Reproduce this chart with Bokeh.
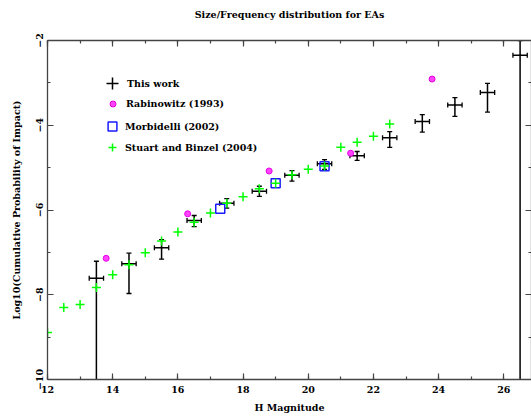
import math
from bokeh.plotting import figure
from bokeh.models import (LinearAxis, Legend, LegendItem, ColumnDataSource,
                          SingleIntervalTicker, Range1d, CustomJSTickFormatter)
from bokeh.embed import file_html
from bokeh.resources import INLINE

# ---------------- data ----------------
# This work (H magnitude, log10 cumulative probability, error bounds)
tw_h = [13.5, 14.5, 15.5, 16.5, 17.5, 18.5, 19.5, 20.5, 21.5, 22.5, 23.5, 24.5, 25.5, 26.5]
tw_logp = [-7.61, -7.27, -6.89, -6.245, -5.84, -5.56, -5.18, -4.91, -4.72, -4.295, -3.91, -3.52, -3.23, -2.35]
tw_low = [-10.5, -7.97, -7.16, -6.39, -5.955, -5.68, -5.32, -5.04, -4.83, -4.52, -4.16, -3.79, -3.69, -10.5]
tw_high = [-7.21, -7.02, -6.70, -6.13, -5.73, -5.44, -5.07, -4.81, -4.62, -4.15, -3.75, -3.35, -3.01, -2.0]
tw_herr = [0.22, 0.22, 0.22, 0.22, 0.22, 0.22, 0.22, 0.22, 0.22, 0.22, 0.22, 0.22, 0.22, 0.22]

# Rabinowitz (1993)
rab_h = [13.8, 16.3, 18.8, 21.3, 23.8]
rab_logp = [-7.14, -6.09, -5.08, -4.66, -2.91]

# Morbidelli (2002)
mor_h = [17.3, 19.0, 20.5]
mor_logp = [-5.97, -5.37, -4.97]

# Stuart and Binzel (2004)
sb_h = [12.0, 12.5, 13.0, 13.5, 14.0, 14.5, 15.0, 15.5, 16.0, 16.5, 17.0,
        17.5, 18.0, 18.5, 19.0, 19.5, 20.0, 20.5, 21.0, 21.5, 22.0, 22.5]
sb_logp = [-8.89, -8.30, -8.23, -7.83, -7.53, -7.29, -7.01, -6.73, -6.52, -6.29, -6.07,
           -5.84, -5.69, -5.50, -5.37, -5.17, -5.04, -4.96, -4.52, -4.40, -4.26, -3.97]

title_text = "Size/Frequency distribution for EAs"
x_label = "H Magnitude"
y_label = "Log10(Cumulative Probability of Impact)"

FONT = "DejaVu Serif"
FS = "9.5px"
AXC = "#444444"

p = figure(width=531, height=417, x_range=Range1d(12, 26.85), y_range=Range1d(-10, -2),
           output_backend="svg", toolbar_location=None,
           min_border_left=47, min_border_right=0, min_border_top=40, min_border_bottom=38,
           background_fill_color="white", border_fill_color="white")
p.xgrid.visible = False
p.ygrid.visible = False
p.outline_line_color = None

bottom = p.below[0]
left = p.left[0]

top = LinearAxis()
right = LinearAxis()
p.add_layout(top, "above")
p.add_layout(right, "right")

for ax in (bottom, top, left, right):
    ax.ticker = SingleIntervalTicker(interval=2, num_minor_ticks=2)
    ax.major_tick_in = 6
    ax.major_tick_out = 0
    ax.minor_tick_in = 3
    ax.minor_tick_out = 0
    ax.axis_line_color = AXC
    ax.axis_line_width = 1.3
    ax.major_tick_line_color = AXC
    ax.minor_tick_line_color = AXC
    ax.major_tick_line_width = 1.2
    ax.minor_tick_line_width = 1.2
    ax.major_label_text_font = FONT
    ax.major_label_text_font_size = FS
    ax.major_label_text_font_style = "bold"
    ax.major_label_text_color = "black"
    ax.axis_label_text_font = FONT
    ax.axis_label_text_font_size = FS
    ax.axis_label_text_font_style = "bold"
    ax.axis_label_text_color = "black"

for ax in (top, right):
    ax.formatter = CustomJSTickFormatter(code="return ''")
    ax.major_label_text_font_size = "0px"
    ax.major_label_standoff = 0

# chart title, carried by the top frame axis so it sits at the reference height
top.axis_label = title_text
top.axis_label_standoff = 21

bottom.axis_label = x_label
bottom.major_label_standoff = 6
bottom.axis_label_standoff = 6

left.axis_label = y_label
left.major_label_orientation = "vertical"
left.major_label_standoff = 5
left.axis_label_standoff = 11

# ---------------- This work: error bars ----------------
tw = ColumnDataSource(dict(
    h=tw_h, logp=tw_logp, low=tw_low, high=tw_high,
    hl=[h - e for h, e in zip(tw_h, tw_herr)],
    hr=[h + e for h, e in zip(tw_h, tw_herr)],
))
p.segment(x0="h", y0="low", x1="h", y1="high", source=tw, line_color="black", line_width=1.5)
p.segment(x0="hl", y0="logp", x1="hr", y1="logp", source=tw, line_color="black", line_width=1.5)
for yk in ("low", "high"):
    p.scatter(x="h", y=yk, source=tw, marker="dash", size=5, line_color="black", line_width=1.3)
for xk in ("hl", "hr"):
    p.scatter(x=xk, y="logp", source=tw, marker="dash", angle=math.pi / 2, size=5,
              line_color="black", line_width=1.3)
r_tw = p.scatter(x="h", y="logp", source=tw, marker="cross", size=1,
                 line_color="black", line_width=1.5)

# ---------------- other series ----------------
r_mor = p.scatter(mor_h, mor_logp, marker="square", size=9, fill_color=None,
                  line_color="#1a1aff", line_width=1.5)
r_sb = p.scatter(sb_h, sb_logp, marker="cross", size=9, line_color="#00ff00", line_width=1.5)
r_rab = p.scatter(rab_h, rab_logp, marker="circle", size=6, fill_color="#ff44ff",
                  line_color="#e600e6", line_width=1)

# ---------------- legend (one per row, each with its own glyph size) ----------------
def add_row(label, rend, gsize, loc, standoff):
    lg = Legend(items=[LegendItem(label=label, renderers=[rend])], location=loc,
                glyph_width=gsize, glyph_height=gsize, label_height=gsize, label_width=10,
                label_standoff=standoff, padding=0, margin=0, spacing=0,
                border_line_color=None, background_fill_alpha=0,
                label_text_font=FONT, label_text_font_size=FS,
                label_text_font_style="bold", label_text_color="black")
    p.add_layout(lg, "center")

add_row("This work", r_tw, 30, (50, 281), 0)
add_row("Rabinowitz (1993)", r_rab, 15, (58, 268), 6)
add_row("Morbidelli (2002)", r_mor, 22, (54, 242), 2)
add_row("Stuart and Binzel (2004)", r_sb, 20, (55, 222), 3)

open("out.html", "w").write(file_html(p, INLINE))
